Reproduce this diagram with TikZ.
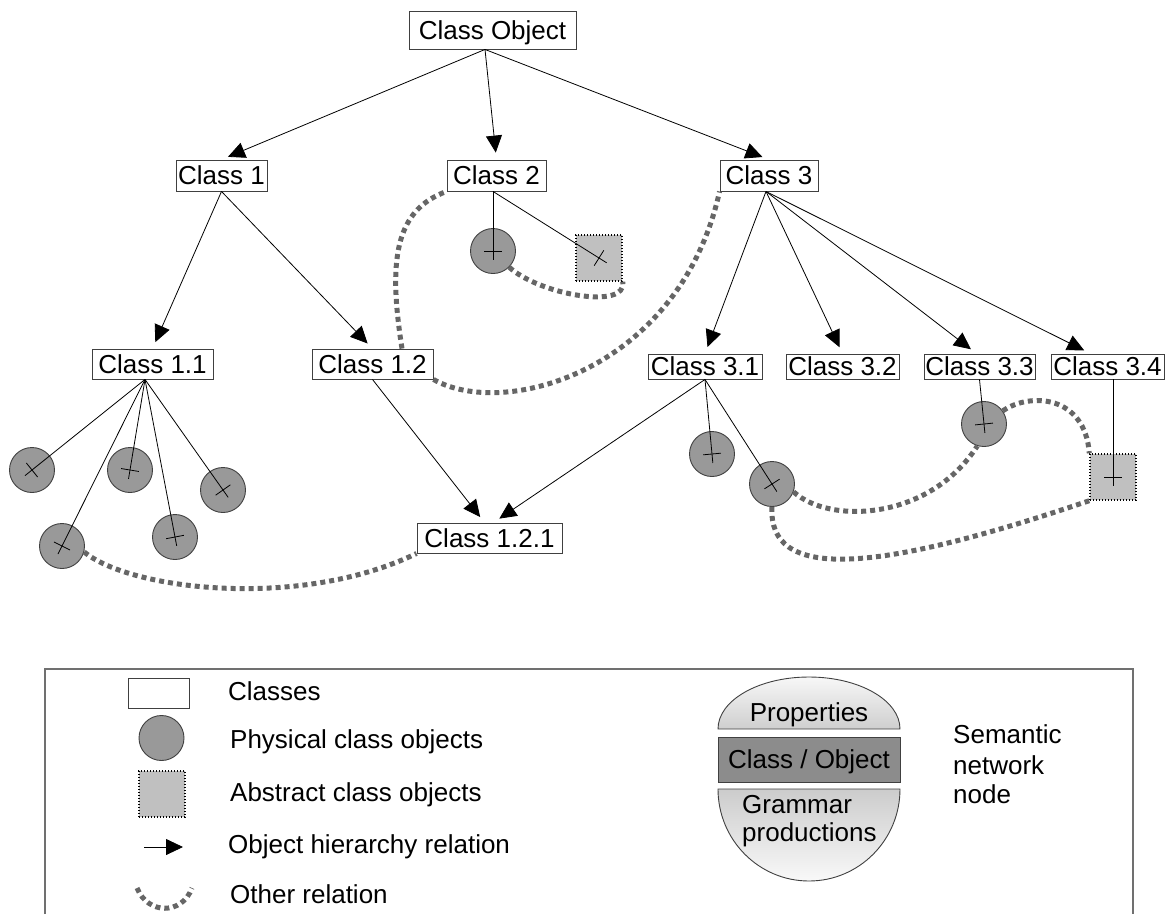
\documentclass[tikz,border=0pt]{standalone}
\usepackage{fontspec}
\setmainfont{Liberation Sans}
\usetikzlibrary{arrows.meta,calc}

\definecolor{boxline}{HTML}{404040}
\definecolor{objfill}{HTML}{999999}
\definecolor{absfill}{HTML}{C0C0C0}
\definecolor{relgray}{HTML}{666666}
\definecolor{framegray}{HTML}{707070}
\definecolor{bandgray}{HTML}{8C8C8C}

\newcommand\labelfont{\fontsize{26}{30}\selectfont}

\tikzset{
  cls/.style={draw=boxline, line width=0.9pt, fill=white, inner sep=0pt,
    text height=18.7pt, text depth=0pt, font=\labelfont},
  phys/.style={circle, draw=boxline, line width=0.9pt, fill=objfill,
    minimum size=45pt, inner sep=0pt},
  abstr/.style={rectangle, draw=black, line width=1.4pt,
    dash pattern=on 1.4pt off 1.6pt, fill=absfill, minimum size=46pt, inner sep=0pt},
  hier/.style={draw=black, line width=0.8pt, -{Triangle[length=17pt,width=16pt]},
    shorten >=7pt},
  link/.style={draw=black, line width=0.8pt},
  rel/.style={draw=relgray, line width=5pt, dash pattern=on 5pt off 4pt},
  lbl/.style={inner sep=0pt, anchor=base west, font=\labelfont},
  clbl/.style={inner sep=0pt, anchor=base, font=\labelfont},
}

% link from a class to an object, ending in a small cross inside the object
\newcommand\objlink[2]{%
  \draw[link, shorten >=-9pt] (#1) -- (#2.center);
  \draw[link] ($(#2.center)!9pt!90:(#1)$) -- ($(#2.center)!9pt!-90:(#1)$);}

\begin{document}
\begin{tikzpicture}[x=1pt,y=-1pt]
\useasboundingbox (0,0) rectangle (1171,914);

% ---------- classes ----------
\node[cls, minimum width=167pt, minimum height=38pt] (co) at (492.5,30) {Class Object};
\node[cls, minimum width=91pt, minimum height=31pt] (c1) at (221.5,175.5) {Class 1};
\node[cls, minimum width=99pt, minimum height=31pt] (c2) at (496.5,175.5) {Class 2};
\node[cls, minimum width=98pt, minimum height=31pt] (c3) at (769,175.5) {Class 3};
\node[cls, minimum width=121pt, minimum height=30pt] (c11) at (152.5,364) {Class 1.1};
\node[cls, minimum width=121pt, minimum height=30pt] (c12) at (372.5,364) {Class 1.2};
\node[cls, minimum width=145pt, minimum height=30pt] (c121) at (489.5,538) {Class 1.2.1};
\node[cls, minimum width=114pt, minimum height=25pt] (c31) at (705,366.5) {Class 3.1};
\node[cls, minimum width=113pt, minimum height=25pt] (c32) at (842.5,366.5) {Class 3.2};
\node[cls, minimum width=111pt, minimum height=25pt] (c33) at (979.5,366.5) {Class 3.3};
\node[cls, minimum width=113pt, minimum height=25pt] (c34) at (1107.5,366.5) {Class 3.4};

\coordinate (cob) at ([xshift=-7.5pt]co.south);
\coordinate (c3b) at ([xshift=-3pt]c3.south);
\coordinate (c11b) at ([xshift=-7.5pt]c11.south);
\coordinate (c2b) at ([xshift=-3.5pt]c2.south);
\coordinate (c34b) at ([xshift=5.5pt]c34.south);

% ---------- objects ----------
\node[phys] (o1) at (32,470) {};
\node[phys] (o2) at (130,470) {};
\node[phys] (o3) at (223,490) {};
\node[phys] (o4) at (62,546) {};
\node[phys] (o5) at (175,537) {};
\node[phys] (o6) at (493,251) {};
\node[abstr] (sq1) at (599,258) {};
\node[phys] (o7) at (712,454) {};
\node[phys] (o8) at (772,484) {};
\node[phys] (o9) at (984,424) {};
\node[abstr] (sq2) at (1113,477) {};

% ---------- other relations ----------
\draw[rel] (o6.-45) .. controls (540,295) and (628,310) .. (sq1.south east);
\draw[rel] ([xshift=29.5pt]c12.north) .. controls (388,260) and (395,210) .. (c2.south west);
\draw[rel] (c12.south east) .. controls (505,420) and (680,370) .. (c3.south west);
\draw[rel] (o4.-15) .. controls (130,590) and (300,610) .. (c121.south west);
\draw[rel] (o8.-20) .. controls (830,525) and (930,520) .. (o9.-107);
\draw[rel] (o9.35) .. controls (1030,392) and (1085,395) .. (sq2.north west);
\draw[rel] (o8.south) .. controls (768,580) and (870,575) .. (sq2.south west);

% ---------- hierarchy ----------
\draw[hier] (cob) -- (c1.north);
\draw[hier] (cob) -- (c2.north);
\draw[hier] (cob) -- (c3.north);
\draw[hier] (c1.south) -- (c11.north);
\draw[hier] (c1.south) -- (c12.north);
\draw[hier] (c12.south) -- ([xshift=-5pt]c121.north);
\draw[hier] (c31.south) -- ([xshift=4pt]c121.north);
\draw[hier] (c3b) -- (c31.north);
\draw[hier] (c3b) -- (c32.north);
\draw[hier] (c3b) -- ([xshift=-3pt]c33.north);
\draw[hier] (c3b) -- ([xshift=-17pt]c34.north);

% ---------- object links ----------
\objlink{c11b}{o1}
\objlink{c11b}{o2}
\objlink{c11b}{o3}
\objlink{c11b}{o4}
\objlink{c11b}{o5}
\objlink{c2b}{o6}
\objlink{c2b}{sq1}
\objlink{c31.south}{o7}
\objlink{c31.south}{o8}
\objlink{c33.south}{o9}
\objlink{c34b}{sq2}

% ---------- legend ----------
\draw[framegray, line width=1.2pt] (45,914) -- (45,669) -- (1133,669) -- (1133,914);

\node[cls, minimum width=61pt, minimum height=30pt] (lgcls) at (158.5,693) {};
\node[phys] (lgphys) at (161.5,738) {};
\node[abstr] (lgabs) at (162,794) {};
\coordinate (lgarA) at (144,847);
\coordinate (lgarB) at (183,847);
\draw[draw=black, line width=0.8pt, -{Triangle[length=17pt,width=16pt]}] (lgarA) -- (lgarB);
\coordinate (lgrelA) at (137,888);
\coordinate (lgrelB) at (192,888);
\draw[rel] (lgrelA) .. controls (148,915) and (182,915) .. (lgrelB);

\node[lbl] (tcls) at (228,700) {Classes};
\node[lbl] (tphys) at (230,748) {Physical class objects};
\node[lbl] (tabs) at (230,801) {Abstract class objects};
\node[lbl] (thier) at (228,853) {Object hierarchy relation};
\node[lbl] (trel) at (230,903) {Other relation};

% semantic network node
\path[draw=boxline, line width=0.9pt, top color=gray!6, bottom color=gray!38]
  (718,729) .. controls (718,700.3) and (758.7,677) .. (809,677)
  .. controls (859.3,677) and (900,700.3) .. (900,729) -- cycle;
\path[draw=boxline, line width=0.9pt, top color=gray!40, bottom color=gray!5]
  (718,789) .. controls (718,839.8) and (758.7,881) .. (809,881)
  .. controls (859.3,881) and (900,839.8) .. (900,789) -- cycle;
\node[draw=boxline, line width=0.9pt, fill=bandgray, minimum width=182pt,
  minimum height=45pt, inner sep=0pt, text height=18.7pt, text depth=0pt,
  font=\labelfont] (band) at (809,759.5) {Class / Object};
\node[clbl] (tprop) at (809,721) {Properties};
\node[lbl] (tgram) at (742,813) {Grammar};
\node[lbl] (tprod) at (742,841) {productions};

\node[lbl] (tsem) at (953,743) {Semantic};
\node[lbl] (tnet) at (953,774) {network};
\node[lbl] (tnode) at (953,803) {node};
\end{tikzpicture}
\end{document}
